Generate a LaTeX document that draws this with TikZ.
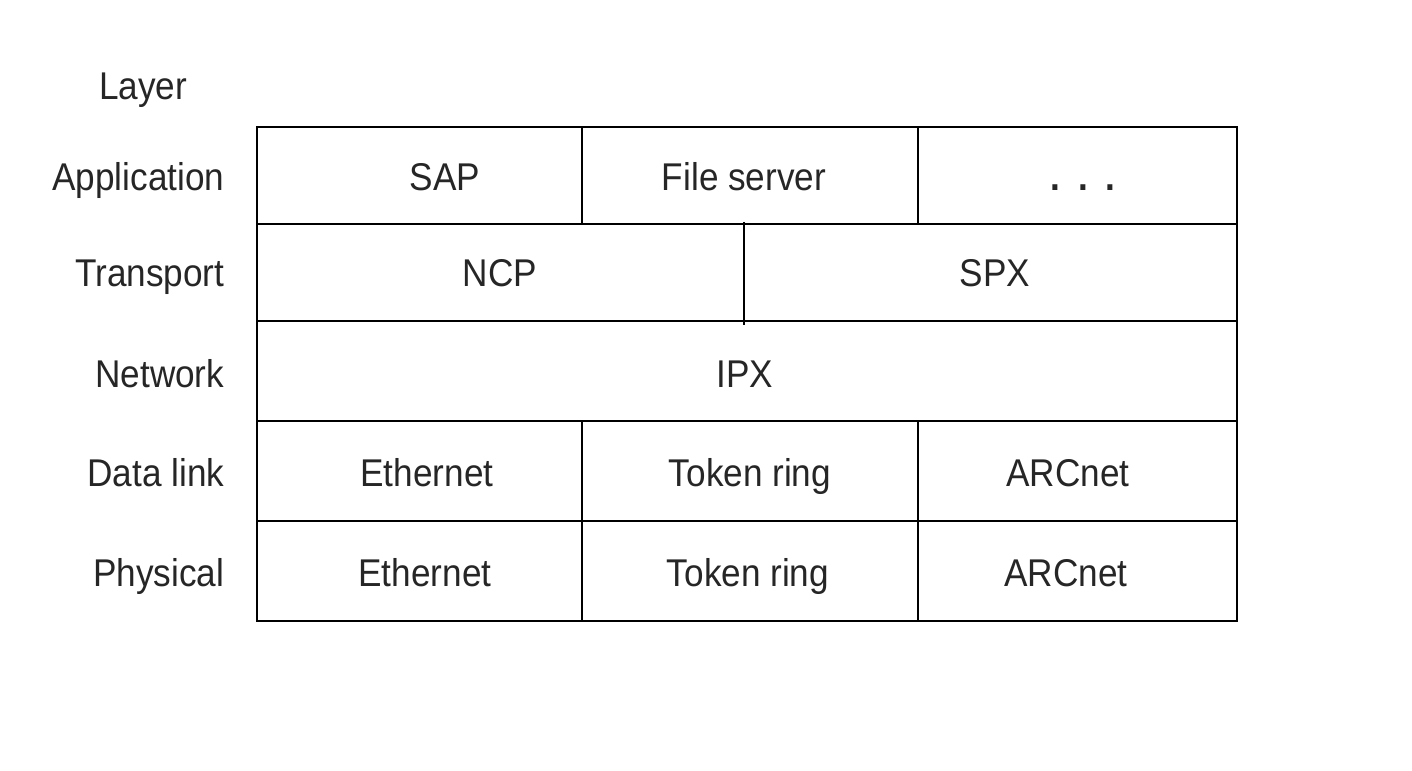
\documentclass[tikz,border=0pt]{standalone}
\usepackage{fontspec}
\setmainfont{Liberation Sans}
\newcommand\stxt[1]{\scalebox{1}[1.1]{#1}}
\begin{document}
\begin{tikzpicture}[x=0.01cm,y=-0.01cm,
  lbl/.style={text=black!85, font=\fontsize{10}{12}\selectfont, inner sep=0pt, anchor=base},
  rlbl/.style={lbl, anchor=base east},
  grid/.style={line width=0.7pt, black}]
\useasboundingbox (0,0) rectangle (1412,771);
% table lines
\draw[grid] (257,127) rectangle (1237,621);
\foreach \y in {224,321,421,521} \draw[grid] (257,\y) -- (1237,\y);
\draw[grid] (582,127) -- (582,224);
\draw[grid] (918,127) -- (918,224);
\draw[grid] (744,222) -- (744,325);
\draw[grid] (582,421) -- (582,621);
\draw[grid] (918,421) -- (918,621);
% left labels
\node[lbl] (layer) at (143,100) {\stxt{Layer}};
\node[rlbl] (app) at (225,191) {\stxt{Application}};
\node[rlbl] (tra) at (225,287) {\stxt{Transport}};
\node[rlbl] (net) at (225,388) {\stxt{Network}};
\node[rlbl] (dl) at (225,487) {\stxt{Data link}};
\node[rlbl] (phy) at (225,587) {\stxt{Physical}};
% cells
\node[lbl] (sap) at (445,191) {\stxt{SAP}};
\node[lbl] (fs) at (744,191) {\stxt{File server}};
\node[lbl] (dots) at (1083,191) {\stxt{\bfseries .\hspace{0.5em}.\hspace{0.5em}.}};
\node[lbl] (ncp) at (500,287) {\stxt{NCP}};
\node[lbl] (spx) at (995,287) {\stxt{SPX}};
\node[lbl] (ipx) at (745,388) {\stxt{IPX}};
\node[lbl] (eth1) at (427,487) {\stxt{Ethernet}};
\node[lbl] (tr1) at (750,487) {\stxt{Token ring}};
\node[lbl] (arc1) at (1068,487) {\stxt{ARCnet}};
\node[lbl] (eth2) at (425,587) {\stxt{Ethernet}};
\node[lbl] (tr2) at (748,587) {\stxt{Token ring}};
\node[lbl] (arc2) at (1066,587) {\stxt{ARCnet}};
\end{tikzpicture}
\end{document}
